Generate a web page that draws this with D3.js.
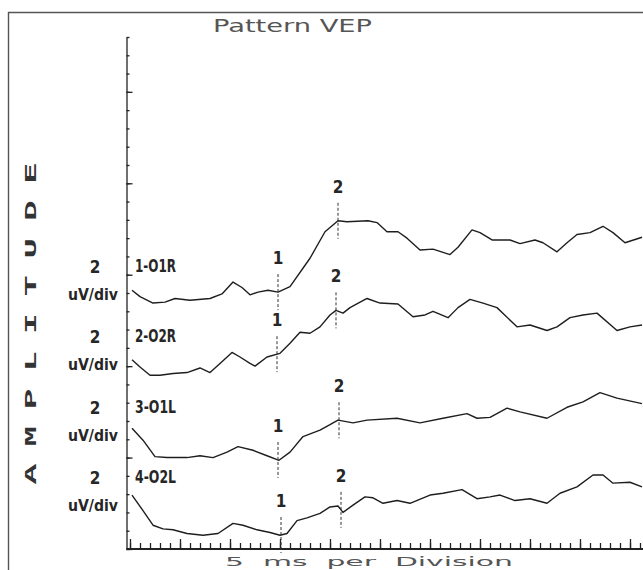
<!DOCTYPE html>
<html lang="en">
<head>
<meta charset="UTF-8">
<title>Pattern VEP</title>
<script src="https://d3js.org/d3.v7.min.js"></script>
<style>
  body { margin: 0; background: #fff; }
  svg { display: block; background: #fff; }
  .narrow { font-family: "Liberation Sans Narrow", "DejaVu Sans Condensed", sans-serif; font-weight: bold; fill: #262626; }
  .wide { font-family: "DejaVu Sans", sans-serif; fill: #555; white-space: pre; }
  .axis path, .axis line { stroke: #222; stroke-width: 1.3; }
  .axis text { display: none; }
</style>
</head>
<body>
<svg id="chart" width="643" height="570"></svg>
<script>
// channel names, gain and vertical offset (in divisions) of each trace
const channels = ['1-O1R', '2-O2R', '3-O1L', '4-O2L'];
const gainValue = '2';
const gainUnit = 'uV/div';
const uvPerDiv = 2;
const offsets = [14, 10, 6, 2];

// traces: latency (ms) and amplitude (uV)
const trace1Ms = [1, 5, 11.5, 17.5, 22.5, 30, 40, 46, 51.5, 56, 60, 64, 69, 74, 80, 90, 97.5, 104, 108.5, 119, 123.5, 128.5, 134, 138.5, 145, 151.5, 160, 164, 171, 175, 181, 190, 195, 202.5, 206.5, 213.5, 218.5, 223.5, 230, 236.5, 241.5, 247.5, 256];
const trace1Uv = [0.3, -0.4, -1.1, -1.0, -0.6, -0.8, -0.6, -0.1, 1.2, 0.6, -0.2, 0.1, 0.3, 0.1, 0.7, 3.8, 6.7, 7.9, 7.8, 7.9, 7.7, 6.7, 6.7, 6.0, 4.7, 4.8, 4.2, 5.0, 6.9, 6.6, 5.8, 5.8, 5.4, 5.8, 5.5, 4.5, 5.5, 6.4, 6.6, 7.3, 6.6, 5.5, 6.1];

const trace2Ms = [1, 5, 10, 15, 21.5, 28.5, 35, 40, 45, 51, 55, 60, 62.5, 68.5, 75, 80, 85, 90, 95, 100, 103, 106.5, 110, 118.5, 125, 134, 141.5, 147.5, 151.5, 159, 164, 170, 176.5, 183.5, 193.5, 200, 208.5, 213.5, 220, 226.5, 233.5, 243.5, 250, 256];
const trace2Uv = [0.7, -0.1, -1.0, -1.0, -0.8, -0.7, -0.2, -0.7, 0.3, 1.5, 1.0, 0.3, 0, 1.0, 1.4, 2.5, 3.7, 3.6, 4.3, 5.6, 6.1, 5.8, 6.4, 7.4, 6.9, 6.8, 5.4, 5.6, 6.0, 5.3, 6.4, 7.3, 6.9, 6.4, 4.3, 4.5, 3.9, 4.3, 5.3, 5.6, 5.8, 3.9, 4.3, 4.5];

const trace3Ms = [1, 6.5, 12.5, 18.5, 28.5, 35, 41.5, 48.5, 54, 61.5, 68.5, 74.5, 80, 86.5, 95, 100, 104, 111.5, 118.5, 133.5, 145, 156.5, 168.5, 173.5, 180, 188.5, 195, 208.5, 218.5, 226.5, 235, 243.5, 256];
const trace3Uv = [1.2, -0.1, -1.9, -2.0, -2.0, -1.8, -2.0, -1.4, -0.8, -1.2, -1.8, -2.3, -1.4, 0.3, 1.0, 1.6, 2.1, 1.8, 2.1, 2.3, 1.8, 2.3, 2.8, 2.3, 2.4, 3.4, 3.0, 2.3, 3.5, 4.1, 5.1, 4.5, 3.9];

const trace4Ms = [1, 6.5, 11.5, 16.5, 21.5, 28.5, 36.5, 44, 51.5, 56.5, 63.5, 70, 75, 78.5, 83.5, 88.5, 95, 100, 104, 106.5, 111.5, 117.5, 121.5, 126.5, 133.5, 140, 150, 156.5, 166, 173.5, 180, 185, 192.5, 200, 208.5, 215, 223.5, 231.5, 236.5, 241.5, 250, 256];
const trace4Uv = [1.9, 0.2, -1.4, -1.8, -1.9, -2.3, -2.5, -2.3, -1.2, -1.4, -1.9, -2.2, -2.5, -2.3, -0.9, -0.6, -0.1, 0.6, 0.7, 0.0, 0.8, 1.7, 1.6, 1.0, 1.3, 1.0, 1.9, 2.1, 2.5, 1.5, 1.7, 1.9, 1.3, 1.5, 1.0, 2.1, 2.8, 4.1, 4.1, 3.2, 3.3, 2.8];

// peak markers (ms)
const marker1Ms = [74, 73.5, 74, 75.5];
const marker2Ms = [104, 103, 104.5, 105.5];

const title = 'Pattern VEP';
const xTitle = '5  ms  per  Division';
const yTitle = 'AMPLITUDE';

const traces = [
  d3.zip(trace1Ms, trace1Uv),
  d3.zip(trace2Ms, trace2Uv),
  d3.zip(trace3Ms, trace3Uv),
  d3.zip(trace4Ms, trace4Uv)
];

const svg = d3.select('#chart');
const axisX = 126.5, axisY = 549;

const x = d3.scaleLinear().domain([0, 256.5]).range([130, 643]);
const y = d3.scaleLinear().domain([0, 28]).range([axisY, 37]);
const yOf = (i, uv) => y(offsets[i] + uv / uvPerDiv);

// frame
svg.append('path')
  .attr('d', 'M8.5,570V12.5H643')
  .attr('fill', 'none')
  .attr('stroke', '#555')
  .attr('stroke-width', 1.4);

// y axis
svg.append('g').attr('class', 'axis')
  .attr('transform', `translate(${axisX},0)`)
  .call(d3.axisRight(y).tickValues(d3.range(0, 29)).tickSize(3).tickSizeOuter(0));
svg.append('g').attr('class', 'axis')
  .attr('transform', `translate(${axisX},0)`)
  .call(d3.axisRight(y).tickValues(d3.range(0, 29, 5)).tickSize(6).tickSizeOuter(0))
  .select('.domain').remove();

// x axis
svg.append('line')
  .attr('x1', axisX).attr('x2', 643)
  .attr('y1', axisY).attr('y2', axisY)
  .attr('stroke', '#222').attr('stroke-width', 1.8);
svg.append('g').attr('class', 'axis')
  .attr('transform', `translate(0,${axisY})`)
  .call(d3.axisTop(x).tickValues(d3.range(0, 256, 5)).tickSize(6).tickSizeOuter(0))
  .select('.domain').remove();
svg.append('g').attr('class', 'axis')
  .attr('transform', `translate(0,${axisY})`)
  .call(d3.axisTop(x).tickValues(d3.range(0, 256, 25)).tickSize(10).tickSizeOuter(0))
  .select('.domain').remove();

// traces
const line = d3.line().x(d => x(d[0])).curve(d3.curveLinear);
traces.forEach((t, i) => {
  svg.append('path')
    .datum(t)
    .attr('d', line.y(d => yOf(i, d[1])))
    .attr('fill', 'none')
    .attr('stroke', '#1e1e1e')
    .attr('stroke-width', 1.4)
    .attr('stroke-linejoin', 'round');
});

// value of a trace at a latency
const bis = d3.bisector(d => d[0]).left;
const valueAt = (t, ms) => {
  const j = Math.max(1, Math.min(t.length - 1, bis(t, ms)));
  const a = t[j - 1], b = t[j];
  return a[1] + (b[1] - a[1]) * (ms - a[0]) / (b[0] - a[0]);
};

// peak markers
[marker1Ms, marker2Ms].forEach((ms, k) => {
  ms.forEach((m, i) => {
    const px = x(m), py = yOf(i, valueAt(traces[i], m));
    svg.append('line')
      .attr('x1', px).attr('x2', px)
      .attr('y1', py - 18).attr('y2', py + 18)
      .attr('stroke', '#333').attr('stroke-width', 1)
      .attr('stroke-dasharray', '3,2');
    svg.append('text').attr('class', 'narrow')
      .attr('x', px).attr('y', py - 28)
      .attr('text-anchor', 'middle')
      .attr('font-size', 17)
      .text(k + 1);
  });
});

// channel and gain labels
const row = d3.scaleLinear().domain([0, 3]).range([272, 483]);
channels.forEach((c, i) => {
  svg.append('text').attr('class', 'narrow')
    .attr('x', 135).attr('y', row(i))
    .attr('font-size', 17)
    .attr('textLength', 41).attr('lengthAdjust', 'spacingAndGlyphs')
    .text(c);
  svg.append('text').attr('class', 'narrow')
    .attr('x', 95).attr('y', row(i) + 1)
    .attr('text-anchor', 'middle')
    .attr('font-size', 17)
    .text(gainValue);
  svg.append('text').attr('class', 'narrow')
    .attr('x', 68).attr('y', row(i) + 28)
    .attr('font-size', 16)
    .attr('textLength', 50).attr('lengthAdjust', 'spacingAndGlyphs')
    .text(gainUnit);
});

// vertical AMPLITUDE title, one letter at a time
const letterY = d3.scalePoint().domain(d3.range(yTitle.length)).range([474, 173]);
yTitle.split('').forEach((ch, i) => {
  svg.append('text')
    .attr('transform', `translate(30,${letterY(i)}) rotate(-90) scale(2,1)`)
    .attr('text-anchor', 'middle')
    .attr('dy', 6)
    .attr('font-family', '"Liberation Mono", monospace')
    .attr('font-weight', 'bold')
    .attr('font-size', 17)
    .attr('fill', '#333')
    .text(ch);
});

// title and x title
svg.append('text').attr('class', 'wide')
  .attr('x', 213).attr('y', 32)
  .attr('font-size', 18)
  .attr('textLength', 159).attr('lengthAdjust', 'spacingAndGlyphs')
  .text(title);
svg.append('text').attr('class', 'wide')
  .attr('x', 225).attr('y', 566)
  .attr('font-size', 13)
  .attr('textLength', 288).attr('lengthAdjust', 'spacingAndGlyphs')
  .text(xTitle);
</script>
</body>
</html>
